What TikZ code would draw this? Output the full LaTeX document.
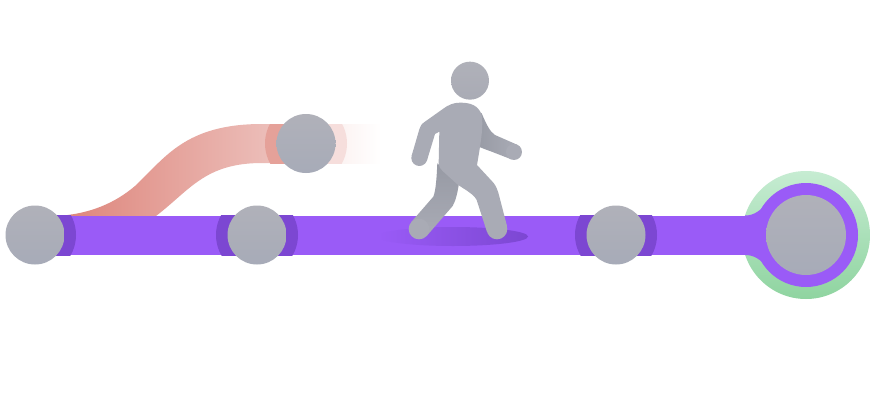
\documentclass[tikz,border=0pt]{standalone}
\definecolor{barP}{HTML}{9A5BF7}
\definecolor{ringP}{HTML}{7C47D2}
\definecolor{stT}{HTML}{B0B1B9}
\definecolor{stB}{HTML}{A7ABB8}
\definecolor{grT}{HTML}{C6ECD2}
\definecolor{grB}{HTML}{8FD4A0}
\definecolor{redL}{HTML}{DD8379}
\definecolor{redR}{HTML}{EEC6C2}
\definecolor{redRingL}{HTML}{E5A199}
\definecolor{redRingR}{HTML}{F6DEDC}
\definecolor{redFade}{HTML}{FCF3F2}
\definecolor{figF}{HTML}{A9ABB5}
\definecolor{figD}{HTML}{979AA4}
\tikzset{
  station/.style={top color=stT,bottom color=stB,draw=none},
}
\begin{document}
\begin{tikzpicture}[x=1pt,y=-1pt]
\useasboundingbox (0,0) rectangle (874,412);
\fill[white] (0,0) rectangle (874,412);
% red branch
\shade[left color=redL,right color=redR]
  (57,216) .. controls (90,214) and (115,203) .. (135,186)
  .. controls (165,158) and (185,124) .. (262,124)
  -- (300,124) -- (300,163) -- (262,163)
  .. controls (205,163) and (190,190) .. (156,216) -- cycle;
\shade[left color=redFade,right color=white] (340,124) rectangle (381,163);
\begin{scope}
  \clip (262,124) rectangle (306,163);
  \fill[redRingL] (306,143.5) circle[radius=41];
\end{scope}
\begin{scope}
  \clip (306,124) rectangle (350,163);
  \fill[redRingR] (306,143.5) circle[radius=41];
\end{scope}
% green and purple terminus
\shade[top color=grT,bottom color=grB] (806,235) circle[radius=64];
\fill[barP] (806,235) circle[radius=52];
% bar
\fill[barP] (40,215.5) rectangle (770,255);
\fill[barP] (745,215.5) .. controls (755,215.5) and (760,210) .. (768,203) -- (790,235) -- (768,267)
  .. controls (760,260) and (755,255) .. (745,255) -- cycle;
% dark rings
\begin{scope}
  \clip (35,215.5) rectangle (874,255);
  \fill[ringP] (35,235) circle[radius=41];
  \fill[ringP] (257,235) circle[radius=41];
  \fill[ringP] (616,235) circle[radius=41];
\end{scope}
% shadow
\shade[left color=barP,right color=ringP] (453,236.5) ellipse[x radius=75,y radius=9.5];
% stations
\shade[station] (35,235) circle[radius=29.5];
\shade[station] (257,235) circle[radius=29.5];
\shade[station] (616,235) circle[radius=29.5];
\shade[station] (306,143.5) circle[radius=29.5];
\shade[station] (806,235) circle[radius=40];
% walker
\begin{scope}[shift={(380,50)},x=0.3333pt,y=-0.3333pt]
  % back arm
  \shade[left color=figD,right color=figF]
    (285,180) -- (305,190) .. controls (320,225) and (330,245) .. (345,255)
    -- (411,284) -- (394,328) -- (335,305) .. controls (315,298) and (300,292) .. (285,285) -- cycle;
  \fill[figF] (402,306) circle[radius=24];
  % back leg
  \shade[top color=figD,bottom color=figF]
    (172,340) -- (238,395) .. controls (232,430) and (228,450) .. (218,468)
    -- (140,558) -- (94,516) -- (160,440) .. controls (168,420) and (170,380) .. (172,340) -- cycle;
  \fill[figF] (117,537) circle[radius=31];
  % front of figure
  \fill[figF]
    (240,158) .. controls (270,158) and (295,165) .. (305,195)
    .. controls (310,225) and (305,265) .. (291,345)
    -- (340,398) .. controls (348,408) and (352,418) .. (355,428)
    -- (381,528) -- (321,546) -- (290,450) .. controls (285,438) and (270,428) .. (250,415)
    -- (232,403) -- (190,365) .. controls (180,355) and (176,350) .. (176,340)
    -- (178,245) -- (165,252) -- (141,331) -- (95,317)
    -- (118,238) .. controls (120,228) and (125,222) .. (135,215)
    -- (190,176) .. controls (205,165) and (220,158) .. (240,158) -- cycle;
  \fill[figF] (351,537) circle[radius=31];
  \fill[figF] (118,324) circle[radius=24];
  \shade[top color=stT,bottom color=figF] (270,92) circle[radius=57];
\end{scope}
\end{tikzpicture}
\end{document}
